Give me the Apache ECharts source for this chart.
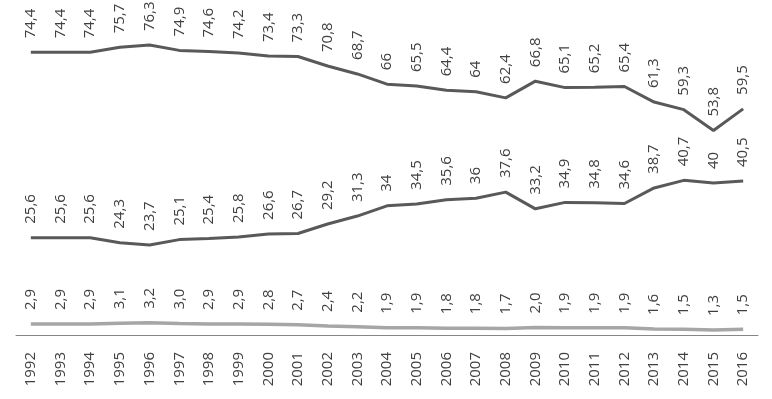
<!DOCTYPE html>
<html>
<head>
<meta charset="utf-8">
<script src="https://cdn.jsdelivr.net/npm/echarts@6/dist/echarts.min.js"></script>
<style>
  html, body { margin: 0; padding: 0; background: #fff; }
  #chart { width: 772px; height: 399px; }
</style>
</head>
<body>
<div id="chart"></div>
<script>
var years = ['1992', '1993', '1994', '1995', '1996', '1997', '1998', '1999', '2000', '2001', '2002', '2003', '2004',
    '2005', '2006', '2007', '2008', '2009', '2010', '2011', '2012', '2013', '2014', '2015', '2016'];
var topSeries = [74.4, 74.4, 74.4, 75.7, 76.3, 74.9, 74.6, 74.2, 73.4, 73.3, 70.8, 68.7, 66,
    65.5, 64.4, 64, 62.4, 66.8, 65.1, 65.2, 65.4, 61.3, 59.3, 53.8, 59.5];
var middleSeries = [25.6, 25.6, 25.6, 24.3, 23.7, 25.1, 25.4, 25.8, 26.6, 26.7, 29.2, 31.3, 34,
    34.5, 35.6, 36, 37.6, 33.2, 34.9, 34.8, 34.6, 38.7, 40.7, 40, 40.5];
var bottomSeries = [2.9, 2.9, 2.9, 3.1, 3.2, 3.0, 2.9, 2.9, 2.8, 2.7, 2.4, 2.2, 1.9,
    1.9, 1.8, 1.8, 1.7, 2.0, 1.9, 1.9, 1.9, 1.6, 1.5, 1.3, 1.5];

var fontFamily = 'Open Sans';

// подписи с запятой как в оригинале
function commaLabel(p) {
    return String(p.value).replace('.', ',');
}
function commaLabelFixed(p) {
    return Number(p.value).toFixed(1).replace('.', ',');
}

function makeSeries(name, data, color, width, fmt) {
    return {
        name: name,
        type: 'line',
        data: data,
        symbol: 'circle',
        symbolSize: 0,
        showSymbol: true,
        lineStyle: { color: color, width: width },
        itemStyle: { color: color },
        label: {
            show: true,
            position: 'top',
            distance: 14,
            rotate: 90,
            align: 'left',
            verticalAlign: 'middle',
            color: '#404040',
            fontSize: 15,
            fontFamily: fontFamily,
            formatter: fmt
        }
    };
}

var myChart = echarts.init(document.getElementById('chart'));
myChart.setOption({
    animation: false,
    backgroundColor: '#ffffff',
    grid: { left: 16, right: 14, top: 31, bottom: 64 },
    xAxis: {
        type: 'category',
        data: years,
        boundaryGap: true,
        axisLine: { show: true, lineStyle: { color: '#868686', width: 1 } },
        axisTick: { show: false },
        axisLabel: {
            rotate: 90,
            margin: 17,
            color: '#404040',
            fontSize: 15,
            fontFamily: fontFamily,
            interval: 0
        }
    },
    yAxis: {
        type: 'value',
        min: 0,
        max: 80,
        show: false,
        splitLine: { show: false }
    },
    series: [
        makeSeries('top', topSeries, '#595959', 3, commaLabel),
        makeSeries('middle', middleSeries, '#595959', 3, commaLabel),
        makeSeries('bottom', bottomSeries, '#a6a6a6', 3.5, commaLabelFixed)
    ]
});
</script>
</body>
</html>
